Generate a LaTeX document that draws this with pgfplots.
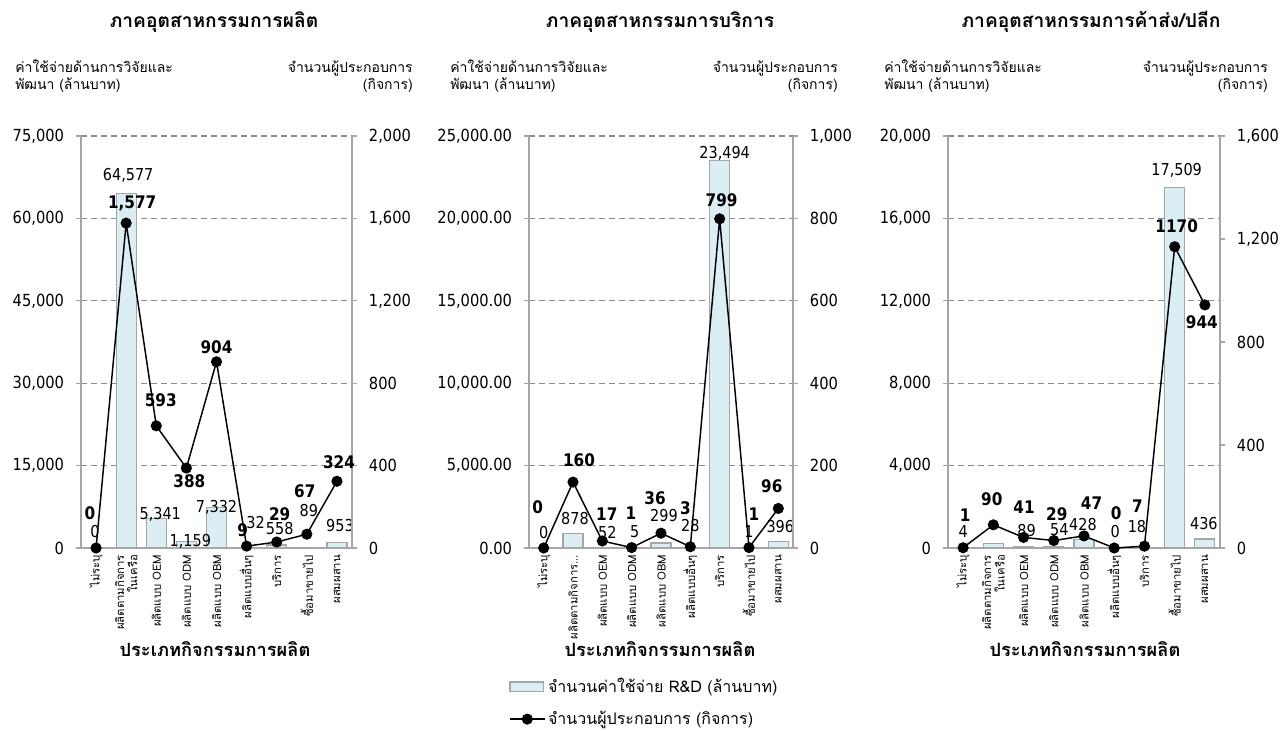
\documentclass[border=0pt]{standalone}
\usepackage{fontspec}
\usepackage{pgfplots}
\usepackage{pgfplotstable}
\pgfplotsset{compat=1.18}
\setmainfont{DejaVu Sans}[FakeStretch=0.88]
\newfontfamily\thaifont[Script=Thai]{Loma}
\definecolor{barfill}{HTML}{DBEEF4}
\definecolor{baredge}{HTML}{A6A6A6}
\definecolor{axcol}{HTML}{A6A6A6}
\definecolor{gridcol}{HTML}{8C8C8C}

\pgfplotstableread{
x rd rdl rdx rdy n nl nx ny
0 0 0 -1 16 0 0 -6 35
1 64577 {64,577} 2 18 1577 {1,577} 6 20
2 5341 {5,341} 4 4 593 593 4.5 26
3 1159 {1,159} 4 0 388 388 3 -13.5
4 7332 {7,332} 0 0 904 904 0 15
5 32 32 9 25 9 9 -4 16
6 558 558 3 16 29 29 3 28
7 89 89 2 37 67 67 -2 43
8 953 953 3 17 324 324 2 19
}\dA

\pgfplotstableread{
x rd rdl rdx rdy n nl nx ny
0 0 0 0 15 0 0 -6 41
1 878 878 2 15 160 160 6 21.5
2 52 52 5 15 17 17 4.5 27
3 5 5 3 16 1 1 -0.7 34
4 299 299 3 28 36 36 -6 35
5 28 28 0 22 3 3 -5 38.5
6 23494 {23,494} 5 7.5 799 799 2 19
7 1 1 0 16 1 1 5 33
8 396 396 2 15 96 96 -6.5 22
}\dB

\pgfplotstableread{
x rd rdl rdx rdy n nl nx ny
0 4 4 0 16 1 1 2 33
1 200 {} 0 16 90 90 -1.5 26
2 89 89 3 16 41 41 0.5 30
3 54 54 5.5 17 29 29 3 26.5
4 428 428 -1 15 47 47 7.5 33
5 0 0 1 16 0 0 2 35
6 18 18 -7.5 21 7 7 -7 40
7 17509 {17,509} 2 17 1170 1170 2 20.7
8 436 436 -1 15 944 944 -3 -17
}\dC

\newcommand{\tkfont}{\fontsize{12.5}{14}\selectfont}
\newcommand{\blfont}{\fontsize{12.3}{14}\selectfont}
\newcommand{\lbfont}{\bfseries\fontsize{13}{15}\selectfont}
\newcommand{\thfont}{\thaifont\fontsize{10.5}{12}\selectfont}
\newcommand{\lgfont}{\thaifont\fontsize{12}{14}\selectfont}
\newcommand{\ttlfont}{\thaifont\bfseries\fontsize{14.4}{16}\selectfont}
\newcommand{\xlfont}{\thaifont\bfseries\fontsize{13.7}{16}\selectfont}

\pgfplotsset{
  base/.style={scale only axis, anchor=south west, height=309pt,
    xmin=-0.5, xmax=8.5, ymin=0, clip=false,
    axis line style={axcol, line width=0.9pt},
    tick align=outside, major tick length=4pt,
    ytick style={axcol, line width=0.9pt},
    yticklabel style={font=\tkfont, inner sep=8.5pt,
      /pgf/number format/assume math mode=true,
      /pgf/number format/fixed, /pgf/number format/1000 sep={,}},
    scaled y ticks=false},
  baraxis/.style={base, axis x line*=bottom, axis y line*=left,
    xtick={0,...,8}, xtick style={draw=none},
    xticklabel style={rotate=90, anchor=east, align=right,
      font=\thaifont\fontsize{8.5}{10}\selectfont, inner sep=1pt},
    ymajorgrids,
    major grid style={gridcol, dash pattern=on 4.5pt off 3pt, line width=0.9pt}},
  lineaxis/.style={base, axis y line*=right, axis x line=none},
  bars/.style={ybar, bar width=15pt, fill=barfill, draw=baredge, line width=0.9pt},
  ln/.style={black, line width=1.1pt, mark=*, mark size=3.6pt,
    mark options={solid, fill=black}},
  labs/.style 2 args={nodes near coords, point meta=explicit symbolic,
    visualization depends on={\thisrow{#1}\as\ldx},
    visualization depends on={\thisrow{#2}\as\ldy},
    nodes near coords style={anchor=center, inner sep=0pt,
      xshift={0.75pt*(\ldx)}, yshift={0.75pt*(\ldy)}}},
}

\begin{document}
\begin{tikzpicture}
\useasboundingbox (0,0) rectangle (963.75pt,548.25pt);

% ---------------- Chart 1 ----------------
\begin{axis}[baraxis, at={(60.75pt,137.25pt)}, width=203.25pt,
  ymax=75000, ytick={0,15000,...,75000},
  xticklabels={ไม่ระบุ, {ผลิตตามกิจการ\\ในเครือ}, ผลิตแบบ OEM, ผลิตแบบ ODM,
    ผลิตแบบ OBM, ผลิตแบบอื่นๆ, บริการ, ซื้อมาขายไป, ผสมผสาน}]
\addplot[bars] table[x=x,y=rd]{\dA};
\addplot[draw=none, mark=none, labs={rdx}{rdy},
  nodes near coords style={font=\blfont}] table[x=x,y=rd,meta=rdl]{\dA};
\end{axis}
\begin{axis}[lineaxis, at={(60.75pt,137.25pt)}, width=203.25pt,
  ymax=2000, ytick={0,400,...,2000}]
\addplot[ln, labs={nx}{ny}, nodes near coords style={font=\lbfont}]
  table[x=x,y=n,meta=nl]{\dA};
\end{axis}

% ---------------- Chart 2 ----------------
\begin{axis}[baraxis, at={(396.75pt,137.25pt)}, width=198pt,
  ymax=25000, ytick={0,5000,...,25000},
  yticklabel style={/pgf/number format/fixed zerofill, /pgf/number format/precision=2},
  xticklabels={ไม่ระบุ, {ผลิตตามกิจการ.{}.{}.}, ผลิตแบบ OEM, ผลิตแบบ ODM,
    ผลิตแบบ OBM, ผลิตแบบอื่นๆ, บริการ, ซื้อมาขายไป, ผสมผสาน},
  legend style={at={(-0.0758,-0.3095)}, anchor=north west, draw=none, fill=none,
    font=\lgfont, row sep=8.5pt, inner sep=0pt, cells={anchor=west}},
  legend cell align=left]
\addplot[bars, legend image code/.code={\draw[fill=barfill, draw=baredge, line width=0.9pt]
  (0pt,-3.4pt) rectangle (25pt,3.4pt);}] table[x=x,y=rd]{\dB};
\addlegendentry{จำนวนค่าใช้จ่าย R\&D (ล้านบาท)}
\addlegendimage{black, line width=1.1pt, legend image code/.code={
  \draw[black, line width=1.1pt] (0pt,0pt) -- (26pt,0pt);
  \fill[black] (13pt,0pt) circle (3.6pt);}}
\addlegendentry{จำนวนผู้ประกอบการ (กิจการ)}
\addplot[draw=none, mark=none, forget plot, labs={rdx}{rdy},
  nodes near coords style={font=\blfont}] table[x=x,y=rd,meta=rdl]{\dB};
\end{axis}
\begin{axis}[lineaxis, at={(396.75pt,137.25pt)}, width=198pt,
  ymax=1000, ytick={0,200,...,1000}]
\addplot[ln, labs={nx}{ny}, nodes near coords style={font=\lbfont}]
  table[x=x,y=n,meta=nl]{\dB};
\end{axis}

% ---------------- Chart 3 ----------------
\begin{axis}[baraxis, at={(711pt,137.25pt)}, width=204pt,
  ymax=20000, ytick={0,4000,...,20000},
  xticklabels={ไม่ระบุ, {ผลิตตามกิจการ\\ในเครือ}, ผลิตแบบ OEM, ผลิตแบบ ODM,
    ผลิตแบบ OBM, ผลิตแบบอื่นๆ, บริการ, ซื้อมาขายไป, ผสมผสาน}]
\addplot[bars] table[x=x,y=rd]{\dC};
\addplot[draw=none, mark=none, labs={rdx}{rdy},
  nodes near coords style={font=\blfont}] table[x=x,y=rd,meta=rdl]{\dC};
\end{axis}
\begin{axis}[lineaxis, at={(711pt,137.25pt)}, width=204pt,
  ymax=1600, ytick={0,400,...,1600}]
\addplot[ln, labs={nx}{ny}, nodes near coords style={font=\lbfont}]
  table[x=x,y=n,meta=nl]{\dC};
\end{axis}

% ---------------- Texts ----------------
\begin{scope}[x=0.75pt, y=-0.75pt, shift={(0pt,548.25pt)}]
\node[anchor=base, inner sep=0pt, font=\ttlfont] at (214,28) {ภาคอุตสาหกรรมการผลิต};
\node[anchor=base, inner sep=0pt, font=\ttlfont] at (660,28) {ภาคอุตสาหกรรมการบริการ};
\node[anchor=base, inner sep=0pt, font=\ttlfont] at (1091,28) {ภาคอุตสาหกรรมการค้าส่ง/ปลีก};

\foreach \lx/\rx in {15/413, 450/838, 884/1268}{
  \node[anchor=base west, inner sep=0pt, font=\thfont] at (\lx,73) {ค่าใช้จ่ายด้านการวิจัยและ};
  \node[anchor=base west, inner sep=0pt, font=\thfont] at (\lx,90) {พัฒนา (ล้านบาท)};
  \node[anchor=base east, inner sep=0pt, font=\thfont] at (\rx,73) {จำนวนผู้ประกอบการ};
  \node[anchor=base east, inner sep=0pt, font=\thfont] at (\rx,90) {(กิจการ)};
}
\foreach \cx in {215, 660, 1085}{
  \node[anchor=base, inner sep=0pt, font=\xlfont] at (\cx,657) {ประเภทกิจกรรมการผลิต};
}
\end{scope}
\end{tikzpicture}
\end{document}
